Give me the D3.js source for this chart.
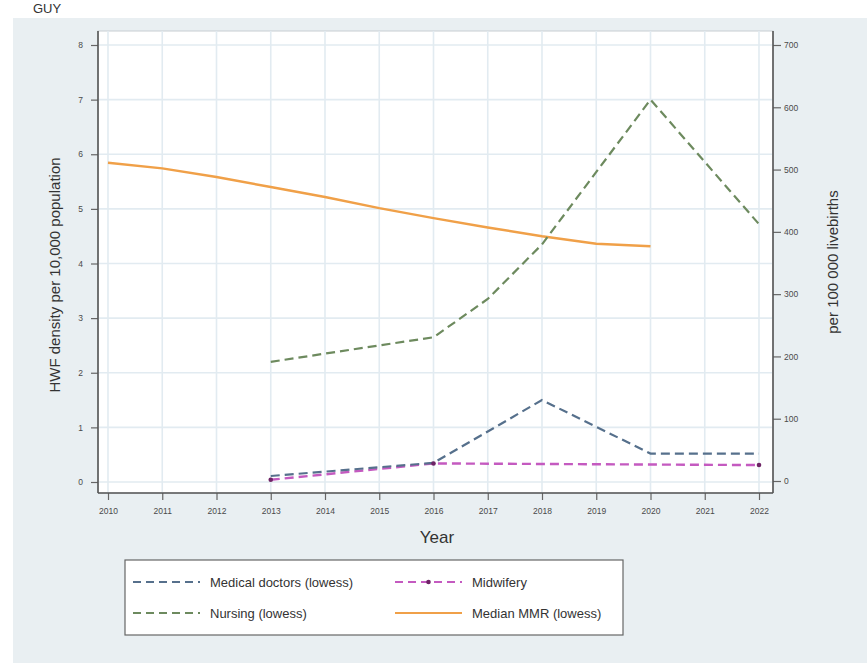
<!DOCTYPE html>
<html><head><meta charset="utf-8">
<script src="https://cdn.jsdelivr.net/npm/d3@7"></script>
<style>body{margin:0;background:#fff;}svg{display:block;font-family:"Liberation Sans",Arial,sans-serif;}</style>
</head><body><svg id="c" width="867" height="663"></svg>
<script>
const years = [2010,2011,2012,2013,2014,2015,2016,2017,2018,2019,2020,2021,2022];
const leftTicks = [0,1,2,3,4,5,6,7,8];
const rightTicks = [0,100,200,300,400,500,600,700];
const doctorsYears = [2013,2016,2018,2020,2022];
const doctorsVals  = [0.11,0.35,1.5,0.52,0.52];
const nursingYears = [2013,2016,2017,2018,2020,2022];
const nursingVals  = [2.2,2.65,3.35,4.35,7.0,4.72];
const midwiferyYears = [2013,2016,2022];
const midwiferyVals  = [0.04,0.34,0.31];
const mmrYears = [2010,2011,2012,2013,2014,2015,2016,2017,2018,2019,2020];
const mmrVals  = [511,502,488,472,456,438,422,407,393,381,377];
const legendLabels = ["Medical doctors (lowess)","Midwifery","Nursing (lowess)","Median MMR (lowess)"];

const svg = d3.select("#c");
svg.append("rect").attr("x",0).attr("y",0).attr("width",867).attr("height",663).attr("fill","#fff");
svg.append("rect").attr("x",13).attr("y",18).attr("width",854).attr("height",645).attr("fill","#e9eff2");
svg.append("text").attr("x",33).attr("y",13).attr("font-size",13).attr("fill","#333").text("GUY");

const L=98, R=773, T=31, B=493;
const x = d3.scaleLinear().domain([2010,2022]).range([108,759]);
const y = d3.scaleLinear().domain([0,8]).range([482,45]);
const y2 = d3.scaleLinear().domain([0,700]).range([481,45]);

svg.append("rect").attr("x",L).attr("y",T).attr("width",R-L).attr("height",B-T).attr("fill","#fff").attr("stroke","#c8ced2").attr("stroke-width",1);

const g = svg.append("g");
g.selectAll(".vg").data(years).join("line").attr("x1",d=>x(d)).attr("x2",d=>x(d)).attr("y1",T).attr("y2",B).attr("stroke","#e2ebf1").attr("stroke-width",1.6);
g.selectAll(".hg").data(leftTicks).join("line").attr("x1",L).attr("x2",R).attr("y1",d=>y(d)).attr("y2",d=>y(d)).attr("stroke","#e2ebf1").attr("stroke-width",1.6);

const axX = svg.append("g").attr("transform",`translate(0,${B})`).call(d3.axisBottom(x).tickValues(years).tickFormat(d3.format("d")).tickSize(7).tickPadding(14));
const axL = svg.append("g").attr("transform",`translate(${L},0)`).call(d3.axisLeft(y).tickValues(leftTicks).tickSize(7).tickPadding(8));
const axR = svg.append("g").attr("transform",`translate(${R},0)`).call(d3.axisRight(y2).tickValues(rightTicks).tickSize(8).tickPadding(3));
[axX,axL,axR].forEach(a=>{
  a.select(".domain").remove();
  a.selectAll(".tick line").attr("stroke","#666").attr("stroke-width",1.2);
  a.selectAll(".tick text").attr("fill","#4a4a4a").attr("font-size",8.5).attr("font-family","Liberation Sans, Arial, sans-serif");
});
axX.selectAll(".tick text").attr("dy","0");
svg.append("line").attr("x1",L).attr("x2",L).attr("y1",T).attr("y2",B).attr("stroke","#555").attr("stroke-width",1.6);
svg.append("line").attr("x1",R).attr("x2",R).attr("y1",T).attr("y2",B).attr("stroke","#555").attr("stroke-width",1.6);
svg.append("line").attr("x1",L).attr("x2",R).attr("y1",B).attr("y2",B).attr("stroke","#555").attr("stroke-width",1.6);

svg.append("text").attr("x",437).attr("y",543).attr("text-anchor","middle").attr("font-size",17).attr("fill","#333").text("Year");
svg.append("text").attr("transform","translate(60,275) rotate(-90)").attr("text-anchor","middle").attr("font-size",15).attr("fill","#333").text("HWF density per 10,000 population");
svg.append("text").attr("transform","translate(838,262) rotate(-90)").attr("text-anchor","middle").attr("font-size",15).attr("fill","#333").text("per 100 000 livebirths");

const cDoc="#56708c", cNur="#6d8a5e", cMid="#c45ac0", cMidM="#6e2466", cMMR="#f0a048";
const line = (ys,vs,sc)=>d3.line().x((d,i)=>x(ys[i])).y((d,i)=>sc(vs[i]))(vs);

svg.append("path").attr("d",line(mmrYears,mmrVals,y2)).attr("fill","none").attr("stroke",cMMR).attr("stroke-width",2.4);
svg.append("path").attr("d",line(nursingYears,nursingVals,y)).attr("fill","none").attr("stroke",cNur).attr("stroke-width",2.2).attr("stroke-dasharray","9,5");
svg.append("path").attr("d",line(midwiferyYears,midwiferyVals,y)).attr("fill","none").attr("stroke",cMid).attr("stroke-width",2.4).attr("stroke-dasharray","9,5");
svg.append("path").attr("d",line(doctorsYears,doctorsVals,y)).attr("fill","none").attr("stroke",cDoc).attr("stroke-width",2.2).attr("stroke-dasharray","9,5");
svg.selectAll(".mm").data(midwiferyVals).join("circle").attr("cx",(d,i)=>x(midwiferyYears[i])).attr("cy",d=>y(d)).attr("r",2.3).attr("fill",cMidM);

svg.append("rect").attr("x",125).attr("y",560).attr("width",498).attr("height",75).attr("fill","#fff").attr("stroke","#666").attr("stroke-width",1.2);
const leg = [
  {lab:legendLabels[0],c:cDoc,x:133,y:582,dash:"8,5"},
  {lab:legendLabels[1],c:cMid,x:395,y:582,dash:"8,5",m:true},
  {lab:legendLabels[2],c:cNur,x:133,y:613,dash:"8,5"},
  {lab:legendLabels[3],c:cMMR,x:395,y:613,dash:null}
];
leg.forEach(d=>{
  const l=svg.append("line").attr("x1",d.x).attr("x2",d.x+67).attr("y1",d.y).attr("y2",d.y).attr("stroke",d.c).attr("stroke-width",2);
  if(d.dash) l.attr("stroke-dasharray",d.dash);
  if(d.m) svg.append("circle").attr("cx",d.x+33.5).attr("cy",d.y).attr("r",2.3).attr("fill",cMidM);
  svg.append("text").attr("x",d.x+77).attr("y",d.y+4.5).attr("font-size",13).attr("fill","#333").text(d.lab);
});
</script></body></html>
